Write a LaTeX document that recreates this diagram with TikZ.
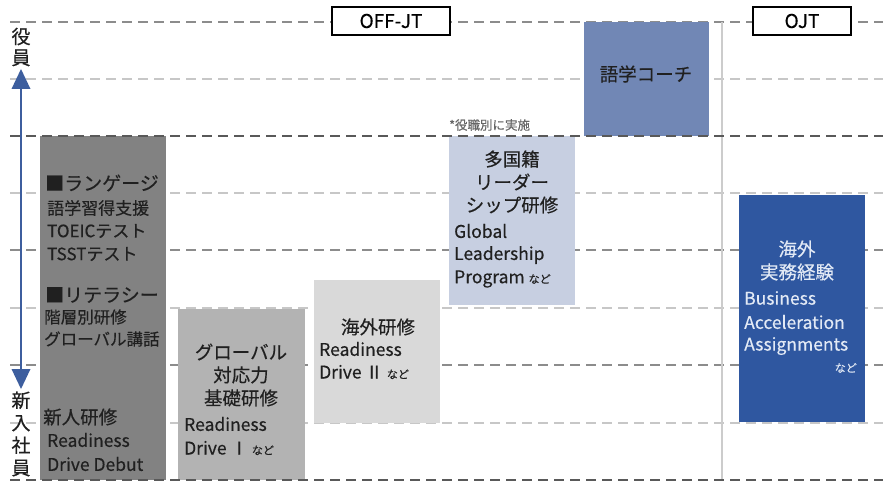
\documentclass[tikz,border=0pt]{standalone}
\usepackage{fontspec}
\setmainfont{Noto Sans CJK JP}[FakeBold=0.35]
\usetikzlibrary{arrows.meta}
\newcommand{\nadofont}{\fontsize{11}{13}\selectfont}
\definecolor{boxA}{HTML}{828282}
\definecolor{boxB}{HTML}{B3B3B3}
\definecolor{boxC}{HTML}{D9D9D9}
\definecolor{boxD}{HTML}{C7CFE1}
\definecolor{boxE}{HTML}{7187B5}
\definecolor{boxF}{HTML}{2F57A0}
\definecolor{arrowblue}{HTML}{3D5E9E}
\definecolor{txtdark}{HTML}{202020}
\definecolor{txtlight}{HTML}{E2E9F5}
\begin{document}
\begin{tikzpicture}[x=1pt,y=-1pt,
  darkdash/.style={draw=black!65, line width=2pt, dash pattern=on 10pt off 6pt},
  lightdash/.style={draw=black!22, line width=1.6pt, dash pattern=on 10pt off 6pt},
  midline/.style={draw=black!45, line width=1.6pt, dash pattern=on 10pt off 6pt},
  jp/.style={font=\fontsize{18.5}{23}\selectfont, text=txtdark, inner sep=0pt},
  jps/.style={font=\fontsize{16.5}{23}\selectfont, text=txtdark, inner sep=0pt},
  lt/.style={font=\fontsize{17.5}{23}\selectfont, text=txtdark, inner sep=0pt},
  tag/.style={draw=black, line width=2pt, fill=white, minimum width=118pt, minimum height=28pt, font=\fontsize{19}{20}\selectfont, inner sep=0pt}
]
\useasboundingbox (0,0) rectangle (883,484);
\fill[white] (0,0) rectangle (883,484);
% horizontal guide lines
\draw[midline] (10,22) -- (883,22);
\draw[lightdash] (10,79) -- (883,79);
\draw[lightdash] (10,193) -- (883,193);
\draw[midline] (10,250) -- (883,250);
\draw[lightdash] (10,308) -- (883,308);
\draw[midline] (10,365) -- (883,365);
\draw[lightdash] (10,423) -- (883,423);
% vertical separator
\draw[draw=black!20, line width=1.6pt] (722,22) -- (722,480);
% boxes
\fill[boxA] (40,136) rectangle (166,480);
\fill[boxB] (178,309) rectangle (305,480);
\fill[boxC] (314,280) rectangle (440,423);
\fill[boxD] (449,136) rectangle (575,305);
\fill[boxE] (584,22) rectangle (709,136);
\fill[boxF] (739,195) rectangle (865,422);
% dark dashed lines on top
\draw[darkdash] (10,136) -- (883,136);
\draw[darkdash] (10,480) -- (883,480);
% tags
\node[tag] (offjt) at (391,21) {OFF-JT};
\node[tag, minimum width=98pt] (ojt) at (802,21) {OJT};
% vertical arrow and labels
\node[font=\fontsize{19}{21}\selectfont, align=center, inner sep=0pt, text=txtdark] (yakuin) at (21,47) {役\\員};
\node[font=\fontsize{19}{22.5}\selectfont, align=center, inner sep=0pt, text=txtdark] (shinnyu) at (21,434) {新\\入\\社\\員};
\coordinate (atop) at (21,69);
\coordinate (abot) at (21,389);
\draw[arrowblue, line width=2.5pt] (21,86) -- (21,372);
\fill[arrowblue] (atop) -- (11.5,89) -- (30.5,89) -- cycle;
\fill[arrowblue] (abot) -- (11.5,369) -- (30.5,369) -- cycle;
% box A text
\node[jp, anchor=west, font=\fontsize{19}{23}\selectfont] (a1) at (45,183) {■ランゲージ};
\node[jps, anchor=west, font=\fontsize{17}{23}\selectfont] (a2) at (47,208) {語学習得支援};
\node[lt, anchor=west, font=\fontsize{17}{23}\selectfont] (a3) at (47,231) {TOEICテスト};
\node[lt, anchor=west, font=\fontsize{17}{23}\selectfont] (a4) at (47,254) {TSSTテスト};
\node[jp, anchor=west, font=\fontsize{19}{23}\selectfont] (a5) at (45,295) {■リテラシー};
\node[jps, anchor=west] (a6) at (44,317) {階層別研修};
\node[jps, anchor=west] (a7) at (44,339) {グローバル講話};
\node[jp, anchor=west] (a8) at (43,417) {新人研修};
\node[lt, anchor=west] (a9) at (47,440) {Readiness};
\node[lt, anchor=west] (a10) at (47,464) {Drive Debut};
% box B text
\node[jp] (b1) at (241,352) {グローバル};
\node[jp] (b2) at (241,375) {対応力};
\node[jp] (b3) at (241,398) {基礎研修};
\node[lt, anchor=west] (b4) at (184,424) {Readiness};
\node[lt, anchor=west] (b5) at (184,448) {Drive Ⅰ {\nadofont など}};
% box C text
\node[jp] (c1) at (378,327) {海外研修};
\node[lt, anchor=west] (c2) at (319,349) {Readiness};
\node[lt, anchor=west] (c3) at (319,372) {Drive Ⅱ {\nadofont など}};
% box D text
\node[text=black!60, anchor=west, inner sep=0pt, font=\fontsize{12.5}{14}\selectfont] (note) at (449,125) {*役職別に実施};
\node[jp] (d1) at (512,159) {多国籍};
\node[jp] (d2) at (512,182) {リーダー};
\node[jp] (d3) at (512,205) {シップ研修};
\node[lt, anchor=west] (d4) at (454,231) {Global};
\node[lt, anchor=west] (d5) at (454,255) {Leadership};
\node[lt, anchor=west] (d6) at (454,279) {Program {\nadofont など}};
% box E text
\node[jp] (e1) at (646,74) {語学コーチ};
% box F text
\node[jp, text=txtlight] (f1) at (797,249) {海外};
\node[jp, text=txtlight] (f2) at (797,272) {実務経験};
\node[lt, text=txtlight, anchor=west] (f3) at (744,298) {Business};
\node[lt, text=txtlight, anchor=west] (f4) at (744,322) {Acceleration};
\node[lt, text=txtlight, anchor=west] (f5) at (744,346) {Assignments};
\node[text=txtlight, inner sep=0pt, anchor=east, font=\nadofont] (f6) at (857,368) {など};
\end{tikzpicture}
\end{document}
